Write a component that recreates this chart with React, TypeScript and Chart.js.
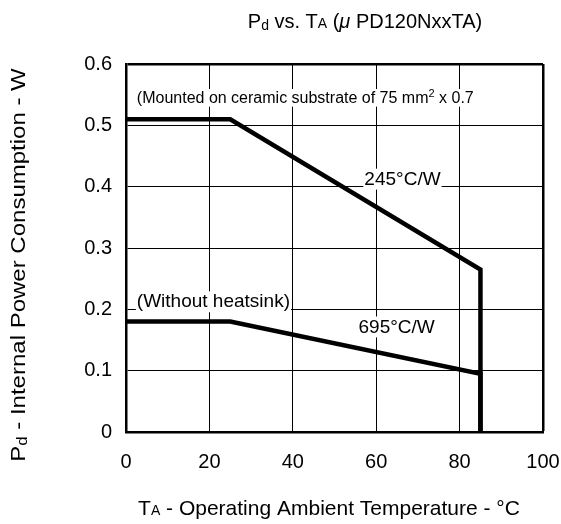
import React, { useEffect, useRef } from "react";
import { Chart, registerables } from "chart.js";

Chart.register(...registerables);

const xTicks = [0, 20, 40, 60, 80, 100];
const yTicks = [0, 0.1, 0.2, 0.3, 0.4, 0.5, 0.6];
const ceramicX = [0, 25, 85, 85];
const ceramicY = [0.51, 0.51, 0.265, 0];
const noSinkX = [0, 25, 85, 85];
const noSinkY = [0.18, 0.18, 0.095, 0];

type Part = { t: string; small?: boolean; sup?: boolean; sub?: boolean; italic?: boolean };

const FONT = "'Liberation Sans', Arial, sans-serif";

function partFont(p: Part, size: number) {
  const s = p.small || p.sup || p.sub ? Math.round(size * 0.68) : size;
  return `${p.italic ? "italic " : ""}${s}px ${FONT}`;
}

function richWidth(ctx: CanvasRenderingContext2D, parts: Part[], size: number) {
  let w = 0;
  for (const p of parts) {
    ctx.font = partFont(p, size);
    w += ctx.measureText(p.t).width;
  }
  return w;
}

function drawRich(
  ctx: CanvasRenderingContext2D,
  parts: Part[],
  x: number,
  baseline: number,
  size: number,
  align: "left" | "center",
  bg?: boolean
) {
  const w = richWidth(ctx, parts, size);
  let cx = align === "center" ? x - w / 2 : x;
  if (bg) {
    ctx.fillStyle = "#fff";
    ctx.fillRect(cx - 1, baseline - size * 0.85, w + 2, size * 1.1);
  }
  ctx.fillStyle = "#000";
  ctx.textAlign = "left";
  ctx.textBaseline = "alphabetic";
  for (const p of parts) {
    ctx.font = partFont(p, size);
    let dy = 0;
    if (p.sup) dy = -size * 0.38;
    if (p.sub) dy = size * 0.08;
    ctx.fillText(p.t, cx, baseline + dy);
    cx += ctx.measureText(p.t).width;
  }
}

const textPlugin = {
  id: "texts",
  beforeDatasetsDraw(chart: any) {
    const ctx = chart.ctx as CanvasRenderingContext2D;
    const xs = chart.scales.x;
    const ys = chart.scales.y;
    ctx.save();
    drawRich(
      ctx,
      [{ t: "(Mounted on ceramic substrate of 75 mm" }, { t: "2", sup: true }, { t: " x 0.7" }],
      xs.getPixelForValue(2.6),
      ys.getPixelForValue(0.537),
      16,
      "left",
      true
    );
    drawRich(ctx, [{ t: "245°C/W" }], xs.getPixelForValue(66.3), ys.getPixelForValue(0.403), 19, "center", true);
    drawRich(ctx, [{ t: "(Without heatsink)" }], xs.getPixelForValue(2.6), ys.getPixelForValue(0.203), 19, "left", true);
    drawRich(ctx, [{ t: "695°C/W" }], xs.getPixelForValue(64.9), ys.getPixelForValue(0.162), 19, "center", true);
    ctx.restore();
  },
  afterDraw(chart: any) {
    const ctx = chart.ctx as CanvasRenderingContext2D;
    ctx.save();
    // title
    drawRich(
      ctx,
      [
        { t: "P" },
        { t: "d", sub: true },
        { t: " vs. T" },
        { t: "A", small: true },
        { t: " (" },
        { t: "μ", italic: true },
        { t: " PD120NxxTA)" },
      ],
      365,
      28,
      20,
      "center"
    );
    // x title
    drawRich(
      ctx,
      [{ t: "T" }, { t: "A", small: true }, { t: " - Operating Ambient Temperature - °C" }],
      329,
      515,
      21,
      "center"
    );
    // y title
    ctx.translate(25, 265);
    ctx.rotate(-Math.PI / 2);
    ctx.scale(1.2, 1);
    drawRich(
      ctx,
      [{ t: "P" }, { t: "d", sub: true }, { t: " - Internal Power Consumption - W" }],
      0,
      0,
      20,
      "center"
    );
    ctx.restore();
  },
};

export default function App() {
  const ref = useRef<HTMLCanvasElement>(null);
  useEffect(() => {
    if (!ref.current) return;
    const toPts = (xs: number[], ys: number[]) => xs.map((x, i) => ({ x, y: ys[i] }));
    const chart = new Chart(ref.current, {
      type: "scatter",
      data: {
        datasets: [
          {
            data: toPts(ceramicX, ceramicY),
            showLine: true,
            borderColor: "#000",
            borderWidth: 4.5,
            pointRadius: 0,
            borderJoinStyle: "miter",
            borderCapStyle: "butt",
          },
          {
            data: toPts(noSinkX, noSinkY),
            showLine: true,
            borderColor: "#000",
            borderWidth: 4.5,
            pointRadius: 0,
            borderJoinStyle: "miter",
            borderCapStyle: "butt",
          },
        ],
      },
      options: {
        animation: false,
        responsive: false,
        devicePixelRatio: 1,
        layout: { padding: { top: 64, right: 18, left: 0, bottom: 0 } },
        plugins: { legend: { display: false }, tooltip: { enabled: false }, title: { display: false } },
        scales: {
          x: {
            type: "linear",
            min: 0,
            max: 100,
            afterFit: (s: any) => {
              s.height = 92;
              s.paddingRight = 0;
              s.paddingLeft = 0;
            },
            afterBuildTicks: (s: any) => {
              s.ticks = xTicks.map((v) => ({ value: v }));
            },
            ticks: {
              color: "#000",
              font: { family: FONT, size: 20 },
              padding: 18,
              maxRotation: 0,
            },
            grid: {
              color: "#000",
              lineWidth: (c: any) => (c.tick && c.tick.value === 100 ? 2.5 : 1),
              drawTicks: false,
            },
            border: { display: true, color: "#000", width: 2.5 },
          },
          y: {
            type: "linear",
            min: 0,
            max: 0.6,
            afterFit: (s: any) => {
              s.width = 126;
              s.paddingTop = 0;
              s.paddingBottom = 0;
            },
            afterBuildTicks: (s: any) => {
              s.ticks = yTicks.map((v) => ({ value: v }));
            },
            ticks: {
              color: "#000",
              font: { family: FONT, size: 20 },
              padding: 14,
              callback: (v: any) => (v === 0 ? "0" : Number(v).toFixed(1)),
            },
            grid: {
              color: "#000",
              lineWidth: (c: any) => (c.tick && Math.abs(c.tick.value - 0.6) < 1e-9 ? 2.5 : 1),
              drawTicks: false,
            },
            border: { display: true, color: "#000", width: 2.5 },
          },
        },
      },
      plugins: [textPlugin],
    } as any);
    return () => chart.destroy();
  }, []);
  return (
    <div style={{ position: "fixed", left: 0, top: 0, width: 561, height: 524, background: "#fff" }}>
      <canvas ref={ref} width={561} height={524} style={{ width: 561, height: 524, display: "block" }} />
    </div>
  );
}
